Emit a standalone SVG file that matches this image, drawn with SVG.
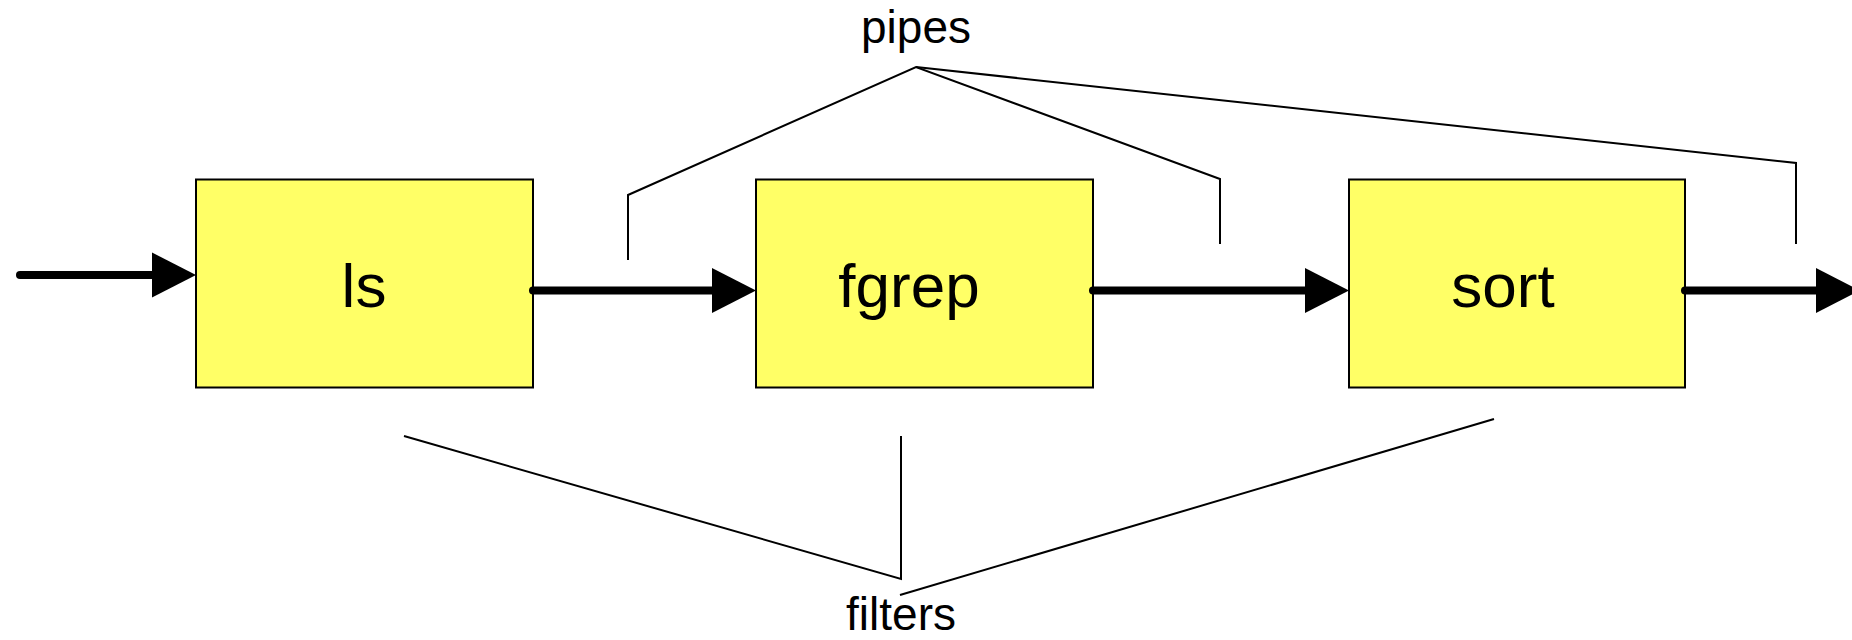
<svg xmlns="http://www.w3.org/2000/svg" width="1852" height="640" viewBox="0 0 1852 640">
  <style>
    .box { fill: #ffff66; stroke: #000; stroke-width: 2; }
    .lbl { font-family: "Liberation Sans", Arial, sans-serif; fill: #000; text-anchor: middle; }
    .big { font-size: 62px; }
    .small { font-size: 46px; }
    .flow { stroke: #000; stroke-width: 8; stroke-linecap: round; fill: none; }
    .head { fill: #000; }
    .brace { stroke: #000; stroke-width: 2; fill: none; }
  </style>
  <rect width="1852" height="640" fill="#fff"/>

  <!-- pipeline stages -->
  <g id="ls">
    <rect class="box" x="196" y="179.5" width="337" height="208"/>
    <text class="lbl big" x="364" y="307">ls</text>
  </g>
  <g id="fgrep">
    <rect class="box" x="756" y="179.5" width="337" height="208"/>
    <text class="lbl big" x="909" y="307">fgrep</text>
  </g>
  <g id="sort">
    <rect class="box" x="1349" y="179.5" width="336" height="208"/>
    <text class="lbl big" x="1503" y="307">sort</text>
  </g>

  <!-- data flow between stages -->
  <g id="connectors">
    <line class="flow" x1="20" y1="275" x2="153" y2="275"/>
    <polygon class="head" points="152,252.5 196,275 152,297.5"/>
    <line class="flow" x1="533" y1="290.5" x2="713" y2="290.5"/>
    <polygon class="head" points="712,268 756,290.5 712,313"/>
    <line class="flow" x1="1093" y1="290.5" x2="1306" y2="290.5"/>
    <polygon class="head" points="1305,268 1349,290.5 1305,313"/>
    <line class="flow" x1="1685" y1="290.5" x2="1817" y2="290.5"/>
    <polygon class="head" points="1816,268 1860,290.5 1816,313"/>
  </g>

  <!-- "pipes" callout -->
  <g id="pipes">
    <text class="lbl small" x="916" y="43">pipes</text>
    <polyline class="brace" points="628,260 628,195 916,67 1220,179 1220,244"/>
    <polyline class="brace" points="916,67 1796,163 1796,244"/>
  </g>

  <!-- "filters" callout -->
  <g id="filters">
    <polyline class="brace" points="404,436 901,579 901,436"/>
    <line class="brace" x1="900" y1="595" x2="1494" y2="419"/>
    <text class="lbl small" x="901" y="630">filters</text>
  </g>
</svg>
